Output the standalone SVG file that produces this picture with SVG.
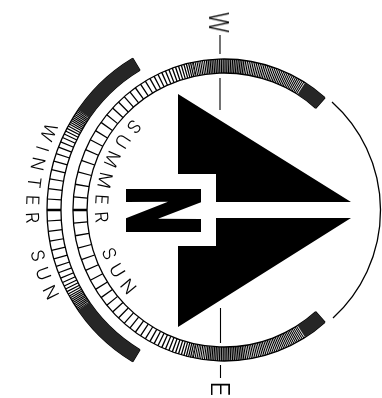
<svg xmlns="http://www.w3.org/2000/svg" width="382" height="398" viewBox="0 0 382 398">
<style>
.line{fill:none;stroke:#000;stroke-width:1.3}
.tick{fill:none;stroke:#000}
.s{stroke-width:14}
.w{stroke-width:14}
.dark{stroke:#262626}
.shade{fill:none;stroke:#000;stroke-width:14;stroke-opacity:.3}
text{font-family:Inter,"Liberation Sans",Arial,sans-serif;font-weight:300;fill:#000}
.lab{font-size:18px;letter-spacing:7.1px;word-spacing:9px}
</style>
<defs>
<path id="sp" d="M133.1 118.5A129 129 0 0 0 159.5 321.7"/>
<path id="wp" d="M46.6 122A198 198 0 0 0 72.3 337.3"/>
</defs>
<rect width="382" height="398" fill="#fff"/>
<g id="summer-band">
<path class="line" d="M325 97.8A151 151 0 1 0 325 322.2M315.7 108.2A137 137 0 1 0 315.7 311.8M325 97.8L315.7 108.2M325 322.2L315.7 311.8"/>
<g class="tick s" stroke-dasharray="1.3 10.7 1.3 10.7 1.3 10.7 1.3 10.2 1.3 9.7 1.3 9.2 1.3 8.7 1.3 8.2 1.3 7.7 1.3 7.2 1.3 6.7 1.3 6.2 1.3 5.7 1.3 5.2 1.3 4.7 1.3 4.2 1.3 3.7 1.3 3.2 1.3 2.9 1.3 2.7 1.3 2.5 1.3 2.3 1.3 2.1 1.3 1.9 1.3 1.7 1.3 1.5 1.3 1.3 1.3 1.1 1.3 .9 1.3 .7 1.3 .7">
<path d="M80 210A144 144 0 0 1 194.1 69.1"/>
<path d="M80 210A144 144 0 0 0 194.1 350.9"/>
</g>
<g class="tick s" stroke-dasharray="1.1 .7">
<path d="M194.1 69.1A144 144 0 0 1 301.3 88.6"/>
<path d="M194.1 350.9A144 144 0 0 0 301.3 331.4"/>
</g>
<path class="shade" d="M206.5 67.1A144 144 0 0 1 244 67.4M206.5 352.9A144 144 0 0 0 244 352.6"/>
<g class="tick s dark">
<path d="M301.3 88.6A144 144 0 0 1 320.4 103"/>
<path d="M301.3 331.4A144 144 0 0 0 320.4 317"/>
</g>
</g>
<g id="winter-band">
<path class="line" d="M132.8 58.3A177 177 0 0 0 132.8 361.7M140 70.3A163 163 0 0 0 140 349.7M132.8 58.3L140 70.3M132.8 361.7L140 349.7"/>
<g class="tick w" stroke-dasharray="1.2 8.8 1.2 8.8 1.2 8.3 1.2 7.8 1.2 7.3 1.2 6.3 1.2 5.3 1.2 4.3 1.2 3.3 1.2 2.6 1.2 2 1.2 1.6 1.2 1.3 1.2 1 1.2 .8 1.2 .6 1.2 .5 1.2 .5 1.2 .5 1.2 .5 1.2 .5 1.2 .5 1.2 .5 1.2 .5">
<path d="M54 210A170 170 0 0 1 83.9 113.8"/>
<path d="M54 210A170 170 0 0 0 83.9 306.2"/>
</g>
<g class="tick w dark">
<path d="M83.9 113.8A170 170 0 0 1 136.4 64.3"/>
<path d="M83.9 306.2A170 170 0 0 0 136.4 355.7"/>
</g>
</g>
<g id="east-arc"><path class="line" d="M332 102A145.5 145.5 0 0 1 333 318"/></g>
<g id="axis">
<path fill="none" stroke="#000" stroke-width="1.1" d="M220 35V54M220 78V110M220.5 308V343M220.5 365V378"/>
</g>
<g id="arrow">
<polygon points="178,94 351,202 216,202 216,174 178,174"/>
<polygon points="351,218 216,218 216,246 178,246 178,327"/>
</g>
<g id="north">
<polygon points="126,189 201,189 201,202.3 158,218.7 201,219 201,232 126,232 126,218.3 168,201.7 126,202"/>
</g>
<g id="labels" opacity=".99">
<text id="west" transform="translate(209,22.5) rotate(90) scale(.8,1)" font-size="27" text-anchor="middle">W</text>
<text id="east" transform="translate(211,389) rotate(90)" font-size="26" text-anchor="middle">E</text>
<text class="lab"><textPath href="#sp">SUMMER SUN</textPath></text>
<text class="lab"><textPath href="#wp">WINTER SUN</textPath></text>
</g>
</svg>
